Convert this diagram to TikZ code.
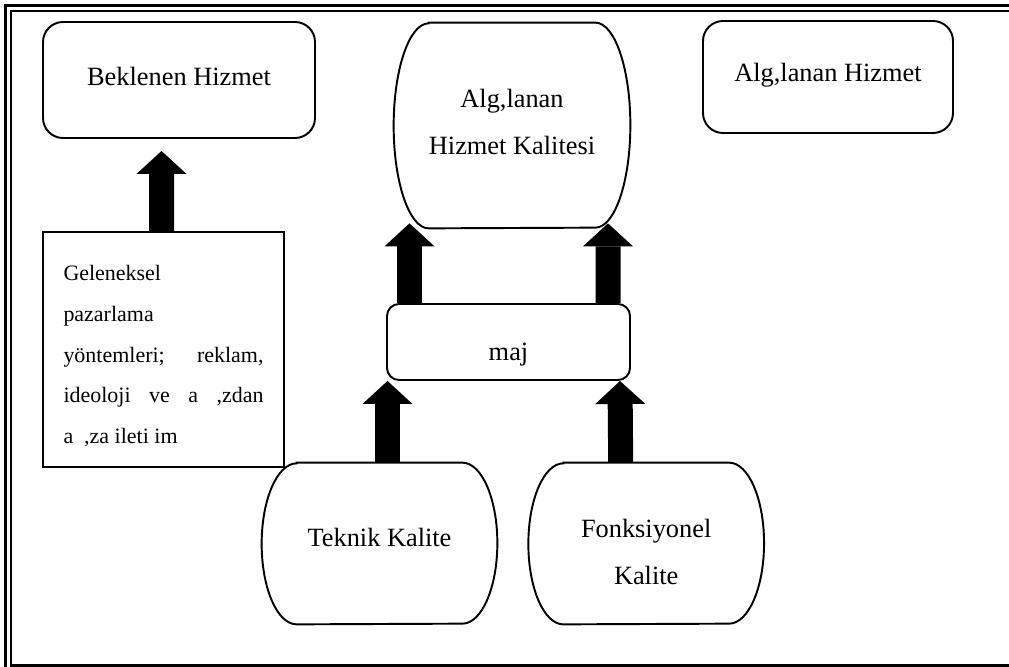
\documentclass[tikz,border=0pt]{standalone}
\usepackage{fontspec}
\setmainfont{Liberation Serif}
\usepackage{tikz}
\usetikzlibrary{positioning}
\usetikzlibrary{arrows.meta}
\tikzset{big arrow/.style = {line width=0.5cm,-{Triangle[width=1cm,length=0.46cm,line width=0pt]}}}
% oval yanli kutu: dugum adi, yarim yukseklik
\newcommand{\barrel}[2]{\draw[line width=1.1pt] ([xshift=0.7cm]#1.north west) -- ([xshift=-0.7cm]#1.north east)
  arc[start angle=90,end angle=-90,x radius=0.7cm,y radius=#2] -- ([xshift=0.7cm]#1.south west)
  arc[start angle=270,end angle=90,x radius=0.7cm,y radius=#2] -- cycle;}
% yaziyi kutu icinde kaydir
\newcommand{\txtup}[2]{\raisebox{#1}[\height][\depth]{#2}}

\begin{document}
\begin{tikzpicture}[font=\fontsize{15}{27}\selectfont,
  main box/.style={draw,line width=1.1pt,rounded corners=0.4cm,align=center},
  barrel node/.style={minimum width=4.7cm,minimum height=3.22cm,align=center}]
\useasboundingbox (0,0) rectangle (20.18,-13.34);
% sayfa kenarligi
\draw[line width=1.7pt] (0.116,-13.34) -- (0.116,-0.116) -- (20.18,-0.116);
\draw[line width=1pt] (0.216,-13.31) -- (0.216,-0.216) -- (20.18,-0.216);
\draw[line width=1.5pt] (0.2,-13.31) -- (20.18,-13.31);

\node[main box,minimum width=5.44cm,minimum height=2.32cm] (bek) at (3.58,-1.60) {\txtup{0.08cm}{Beklenen Hizmet}};
\node[main box,minimum width=5cm,minimum height=2.24cm] (alh) at (16.56,-1.54) {\txtup{0.04cm}{Alg,lanan Hizmet}};
\node[barrel node,minimum width=4.72cm,minimum height=4.1cm] (ahk) at (10.24,-2.51)
  {\txtup{0.08cm}{\begin{tabular}{@{}c@{}}Alg,lanan\\Hizmet Kalitesi\end{tabular}}};
\node[main box,rounded corners=0.24cm,minimum width=4.86cm,minimum height=1.52cm] (maj) at (10.17,-6.84) {\txtup{-0.26cm}{maj}};
\node[barrel node] (tek) at (7.59,-10.87) {\txtup{0.12cm}{Teknik Kalite}};
\node[barrel node,right=0.62cm of tek] (fon) {\txtup{-0.16cm}{\begin{tabular}{@{}c@{}}Fonksiyonel\\Kalite\end{tabular}}};
\node[draw,line width=0.7pt,text width=4cm,inner xsep=0.41cm,minimum height=4.7cm,align=justify,
  font=\fontsize{12.5}{23.25}\selectfont] (gel) at (3.27,-6.99)
  {\tolerance=10000 \hyphenpenalty=10000 \rule{0pt}{0.57cm}Geleneksel\newline pazarlama\newline
  yöntemleri; reklam,\linebreak ideoloji ve a ,zdan\linebreak a\ \ ,za ileti\ im};

\barrel{ahk}{2.05cm}
\barrel{tek}{1.61cm}
\barrel{fon}{1.61cm}

\draw[big arrow] ([xshift=-0.04cm]gel.north) -- ([xshift=-0.35cm,yshift=-0.24cm]bek.south);
\draw[big arrow] ([xshift=-1.98cm]maj.north) -- ([xshift=-2.05cm,yshift=0.1cm]ahk.south);
\draw[big arrow] ([xshift=1.99cm]maj.north) -- ([xshift=1.92cm,yshift=0.1cm]ahk.south);
\draw[big arrow] ([xshift=0.16cm]tek.north) -- ([xshift=-2.42cm]maj.south);
\draw[big arrow] ([xshift=-0.51cm]fon.north) -- ([xshift=2.23cm]maj.south);
\end{tikzpicture}
\end{document}
